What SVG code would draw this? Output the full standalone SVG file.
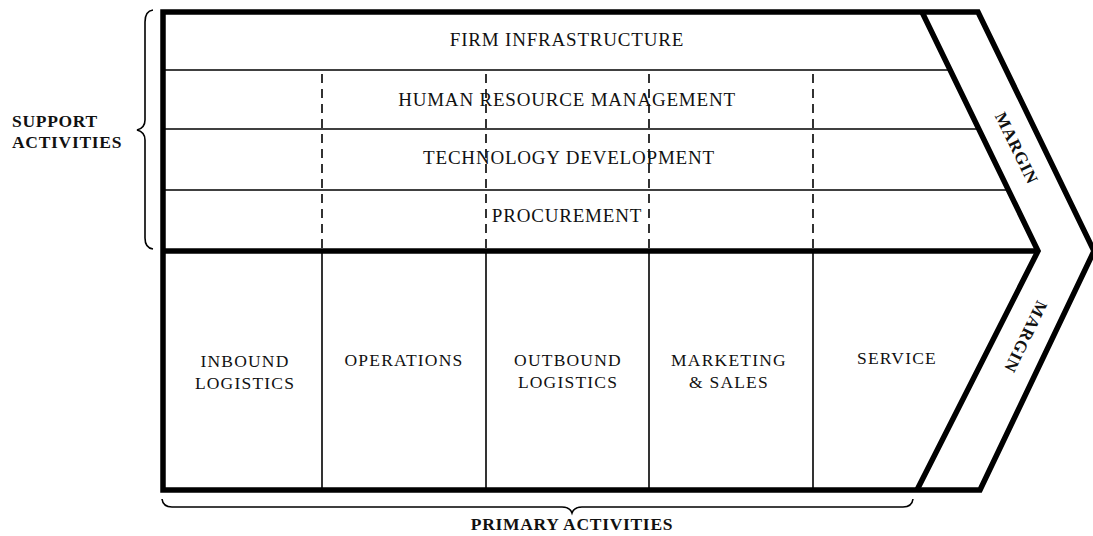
<svg xmlns="http://www.w3.org/2000/svg" width="1093" height="536" viewBox="0 0 1093 536">
<style>
.thick{fill:none;stroke:#000;stroke-width:5.5;stroke-linejoin:miter}
.thin{fill:none;stroke:#000;stroke-width:1.6}
.dash{fill:none;stroke:#000;stroke-width:1.6;stroke-dasharray:9,6}
.brace{fill:none;stroke:#000;stroke-width:1.6}
.lbl{font-family:"Liberation Serif",serif;font-size:19px;letter-spacing:0.8px;fill:#111;text-anchor:middle}
.plbl{font-family:"Liberation Serif",serif;font-size:17.5px;letter-spacing:1.2px;fill:#111;text-anchor:middle}
.bold{font-family:"Liberation Serif",serif;font-size:17.5px;font-weight:bold;letter-spacing:0.7px;fill:#111}
.margin{font-family:"Liberation Serif",serif;font-size:17px;font-weight:bold;letter-spacing:0.8px;fill:#111;text-anchor:middle}
</style>
<rect width="1093" height="536" fill="#fff"/>
<g id="connectors">
<line class="thin" x1="163" y1="70" x2="950" y2="70"/>
<line class="thin" x1="163" y1="129" x2="979" y2="129"/>
<line class="thin" x1="163" y1="190" x2="1009" y2="190"/>
<line class="dash" x1="322" y1="74" x2="322" y2="250"/>
<line class="dash" x1="486" y1="74" x2="486" y2="250"/>
<line class="dash" x1="649" y1="74" x2="649" y2="250"/>
<line class="dash" x1="813" y1="74" x2="813" y2="250"/>
<line class="thin" x1="322" y1="251" x2="322" y2="490"/>
<line class="thin" x1="486" y1="251" x2="486" y2="490"/>
<line class="thin" x1="649" y1="251" x2="649" y2="490"/>
<line class="thin" x1="813" y1="251" x2="813" y2="490"/>
<path class="brace" d="M153,10 Q145,11 145,22 L145,120 Q145,128 137,130 Q145,132 145,140 L145,238 Q145,248 153,249"/>
<path class="brace" d="M162,499 Q163,507 172,507 L562,507 Q570,507 572,513 Q574,507 582,507 L903,507 Q912,507 913,499"/>
</g>
<g id="frame">
<path class="thick" d="M163,12 L978,12 L1094,251 L980,490 L163,490 Z"/>
<path class="thick" d="M922,12 L1038,251 L917,490"/>
<line class="thick" x1="163" y1="251" x2="1038" y2="251"/>
</g>
<g id="firm-infrastructure"><text class="lbl" x="567" y="46">FIRM INFRASTRUCTURE</text></g>
<g id="hrm"><text class="lbl" x="567" y="106">HUMAN RESOURCE MANAGEMENT</text></g>
<g id="tech-dev"><text class="lbl" x="569" y="164">TECHNOLOGY DEVELOPMENT</text></g>
<g id="procurement"><text class="lbl" x="567" y="222">PROCUREMENT</text></g>
<g id="inbound"><text class="plbl" x="245" y="367">INBOUND</text><text class="plbl" x="245" y="389">LOGISTICS</text></g>
<g id="operations"><text class="plbl" x="404" y="366">OPERATIONS</text></g>
<g id="outbound"><text class="plbl" x="568" y="366">OUTBOUND</text><text class="plbl" x="568" y="388">LOGISTICS</text></g>
<g id="marketing"><text class="plbl" x="729" y="366">MARKETING</text><text class="plbl" x="729" y="388">&amp; SALES</text></g>
<g id="service"><text class="plbl" x="897" y="364">SERVICE</text></g>
<g id="margin-top"><text class="margin" transform="translate(1017,148) rotate(64)" y="6">MARGIN</text></g>
<g id="margin-bottom"><text class="margin" transform="translate(1026,337) rotate(116)" y="6">MARGIN</text></g>
<g id="support-activities"><text class="bold" x="12" y="127">SUPPORT</text><text class="bold" x="12" y="148">ACTIVITIES</text></g>
<g id="primary-activities"><text class="bold" x="572" y="530" text-anchor="middle" letter-spacing="1.3">PRIMARY ACTIVITIES</text></g>
</svg>
